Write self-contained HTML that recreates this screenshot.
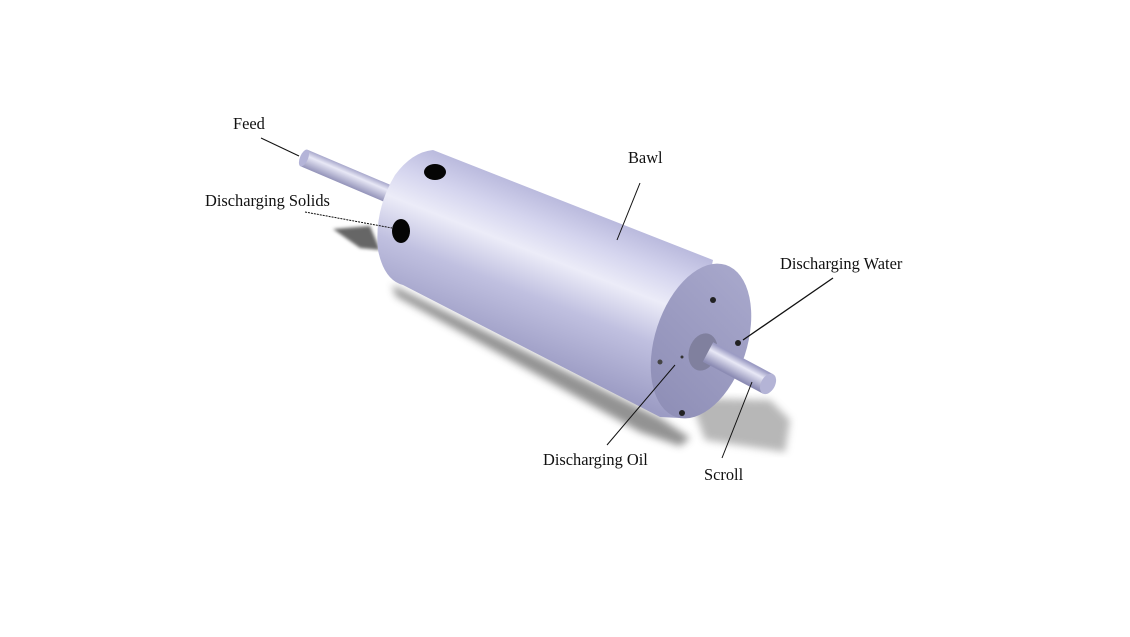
<!DOCTYPE html>
<html><head><meta charset="utf-8"><style>
html,body{margin:0;padding:0;background:#fff;}
svg{display:block;}
text{font-family:"Liberation Serif",serif;font-size:16.4px;fill:#111;}
</style></head><body>
<svg width="1130" height="637" viewBox="0 0 1130 637" xmlns="http://www.w3.org/2000/svg">
<defs>
<linearGradient id="body" gradientUnits="userSpaceOnUse" x1="565" y1="185" x2="500" y2="350">
<stop offset="0" stop-color="#acacd4"/>
<stop offset="0.25" stop-color="#d4d4ee"/>
<stop offset="0.42" stop-color="#ececf8"/>
<stop offset="0.65" stop-color="#c0c0e0"/>
<stop offset="1" stop-color="#9c9cc4"/>
</linearGradient>
<linearGradient id="cap" gradientUnits="userSpaceOnUse" x1="740" y1="270" x2="665" y2="415">
<stop offset="0" stop-color="#a8a8cc"/>
<stop offset="1" stop-color="#8e8eb6"/>
</linearGradient>
<linearGradient id="shaft" gradientUnits="userSpaceOnUse" x1="0" y1="-10" x2="0" y2="10">
<stop offset="0" stop-color="#9c9cc4"/>
<stop offset="0.35" stop-color="#e8e8f6"/>
<stop offset="1" stop-color="#8c8cb4"/>
</linearGradient>
<filter id="blur"><feGaussianBlur stdDeviation="4"/></filter>
<filter id="blur2"><feGaussianBlur stdDeviation="1.5"/></filter>
</defs>

<polygon points="333,229 370,226 380,250 360,248" fill="#666" filter="url(#blur2)"/>
<polygon points="392,285 660,418 690,438 680,446 640,432 396,296" fill="#777" filter="url(#blur)" opacity="0.8"/>
<polygon points="690,398 770,400 790,420 785,452 705,440" fill="#999" filter="url(#blur)" opacity="0.7"/>

<g transform="translate(304,158) rotate(23)">
<rect x="0" y="-9" width="100" height="18" fill="url(#shaft)"/>
<ellipse cx="0" cy="0" rx="4" ry="9" fill="#b4b4d8"/>
</g>

<path d="M433,150 L713,260 L680,418 L660,417 L403,285 Q384,280 378,250 Q374,210 395,175 Q412,152 433,150 Z" fill="url(#body)"/>
<ellipse cx="701" cy="341" rx="46" ry="80" transform="rotate(18 701 341)" fill="url(#cap)"/>
<ellipse cx="435" cy="172" rx="11" ry="8" fill="#050505"/>
<ellipse cx="401" cy="231" rx="9" ry="12" fill="#050505"/>
<circle cx="713" cy="300" r="3" fill="#222"/>
<circle cx="738" cy="343" r="3" fill="#222"/>
<circle cx="682" cy="413" r="3" fill="#222"/>
<circle cx="660" cy="362" r="2.5" fill="#444"/>
<circle cx="682" cy="357" r="1.5" fill="#333"/>
<ellipse cx="703" cy="352" rx="14" ry="19" transform="rotate(18 703 352)" fill="#80809e"/>
<g transform="translate(708,352) rotate(28)">
<rect x="0" y="-11" width="68" height="22" fill="url(#shaft)"/>
<ellipse cx="68" cy="0" rx="7" ry="11" fill="#b4b4d6"/>
</g>

<g stroke="#111" stroke-width="1" fill="none">
<line x1="261" y1="138" x2="299" y2="156"/>
<line x1="640" y1="183" x2="617" y2="240"/>
<line x1="305" y1="212" x2="392" y2="228" stroke-dasharray="2,1"/>
<line x1="833" y1="278" x2="743" y2="340" stroke-width="1.3"/>
<line x1="607" y1="445" x2="675" y2="365"/>
<line x1="722" y1="458" x2="752" y2="382"/>
</g>

<text x="233" y="129">Feed</text>
<text x="628" y="163">Bawl</text>
<text x="205" y="206">Discharging Solids</text>
<text x="780" y="269">Discharging Water</text>
<text x="543" y="465">Discharging Oil</text>
<text x="704" y="480">Scroll</text>
</svg>
</body></html>
